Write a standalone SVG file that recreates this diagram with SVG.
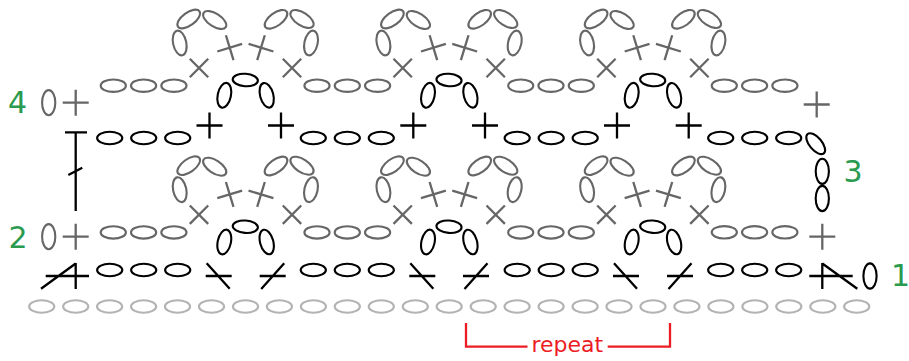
<svg xmlns="http://www.w3.org/2000/svg" width="909" height="361" viewBox="0 0 909 361">
<style>
.k{stroke:#000}.g{stroke:#666}.l{stroke:#b3b3b3}
ellipse,path{fill:none}
ellipse{stroke-width:2.1}
path{stroke-width:2.3}
.num{font:30px "DejaVu Sans",sans-serif;fill:#2a9a4f}
.rep{font:22px "DejaVu Sans",sans-serif;fill:#ed1c24}
</style>
<defs>
<ellipse id="h" rx="12.6" ry="6.2"/>
<ellipse id="v" rx="6.6" ry="12.6"/>
<ellipse id="hl" rx="13.2" ry="6.4"/>
<path id="plus" d="M-13 0H13M0-13V13"/>
<g id="chain"><use href="#h" x="113.3"/><use href="#h" x="143.6"/><use href="#h" x="173.9"/></g>
<g id="chk"><use href="#h" x="0"/><use href="#h" x="34"/><use href="#h" x="68"/></g>
<g id="fan" class="g">
<use href="#plus" transform="translate(199 68) rotate(45)"/>
<use href="#plus" transform="translate(229.7 47.7) rotate(-17)"/>
<use href="#plus" transform="translate(261 47.7) rotate(17)"/>
<use href="#plus" transform="translate(292 68) rotate(45)"/>
<use href="#v" transform="translate(179.7 43) rotate(-12)"/>
<use href="#hl" transform="translate(188.7 19) rotate(-36)"/>
<use href="#hl" transform="translate(214.7 20) rotate(33)"/>
<use href="#hl" transform="translate(276 19.3) rotate(-36)"/>
<use href="#hl" transform="translate(302 19) rotate(33)"/>
<use href="#v" transform="translate(311 43) rotate(12)"/>
<use href="#chain" y="85.7"/>
</g>
<g id="arch" class="k">
<use href="#v" transform="translate(224.3 95.3) rotate(12)"/>
<use href="#h" transform="translate(245.3 80) rotate(4)"/>
<use href="#v" transform="translate(266.7 95.3) rotate(-15)"/>
</g>
<g id="rep4"><use href="#fan"/><use href="#arch"/></g>
<g id="dl"><path d="M-13 0H13M-12 -12.7L11 12.7"/></g>
<g id="dr"><path d="M-13 0H13M-11.5 12.9L11.5 -12.7"/></g>
</defs>
<g id="foundation" class="l">
<use href="#h" x="41.7" y="306.5"/><use href="#h" x="75.7" y="306.5"/><use href="#h" x="109.6" y="306.5"/><use href="#h" x="143.6" y="306.5"/><use href="#h" x="177.5" y="306.5"/><use href="#h" x="211.5" y="306.5"/><use href="#h" x="245.5" y="306.5"/><use href="#h" x="279.4" y="306.5"/><use href="#h" x="313.4" y="306.5"/><use href="#h" x="347.3" y="306.5"/><use href="#h" x="381.3" y="306.5"/><use href="#h" x="415.3" y="306.5"/><use href="#h" x="449.2" y="306.5"/><use href="#h" x="483.2" y="306.5"/><use href="#h" x="517.1" y="306.5"/><use href="#h" x="551.1" y="306.5"/><use href="#h" x="585.1" y="306.5"/><use href="#h" x="619" y="306.5"/><use href="#h" x="653" y="306.5"/><use href="#h" x="686.9" y="306.5"/><use href="#h" x="720.9" y="306.5"/><use href="#h" x="754.9" y="306.5"/><use href="#h" x="788.8" y="306.5"/><use href="#h" x="822.8" y="306.5"/><use href="#h" x="856.7" y="306.5"/>
</g>
<g id="row1" class="k">
<path d="M45.7 276H89M75.7 263V289M41 288.7L75.7 263.5"/>
<use href="#chk" x="109.7" y="270"/>
<use href="#dl" x="218.7" y="276"/><use href="#dr" x="272.7" y="276"/>
<use href="#chk" x="313.3" y="270"/>
<use href="#dl" x="422.3" y="276"/><use href="#dr" x="476" y="276"/>
<use href="#chk" x="517.2" y="270"/>
<use href="#dl" x="626" y="276"/><use href="#dr" x="680" y="276"/>
<use href="#chk" x="720.7" y="270"/>
<path d="M809.3 276H852.7M822.3 263V289M822.3 263.5L857.3 288.7"/>
<use href="#v" x="870" y="276"/>
</g>
<g id="row2" class="g">
<use href="#v" x="48.7" y="236.7"/><use href="#plus" x="75.7" y="236.7"/>
<use href="#plus" x="822.3" y="236.7"/>
<use href="#chain" x="611" y="232.3"/>
</g>
<g id="motifs2" transform="translate(0 146.7)">
<use href="#rep4"/><use href="#rep4" x="203.7"/><use href="#rep4" x="407.4"/>
</g>
<g id="row3" class="k">
<path d="M65 132.3H87M75.7 132.3V211M68.3 175L82.3 167.7"/>
<use href="#chk" x="109.7" y="138"/>
<use href="#plus" x="209.5" y="125.5"/><use href="#plus" x="281" y="125.5"/>
<use href="#chk" x="313.3" y="138"/>
<use href="#plus" x="413.3" y="125.5"/><use href="#plus" x="485" y="125.5"/>
<use href="#chk" x="517.2" y="138"/>
<use href="#plus" x="617" y="125.5"/><use href="#plus" x="688.7" y="125.5"/>
<use href="#chk" x="720.7" y="138"/>
<use href="#h" transform="translate(815.7 143.7) rotate(50)"/>
<use href="#v" x="822.3" y="171.3"/><use href="#v" x="822.3" y="198.5"/>
</g>
<g id="row4" class="g">
<use href="#v" x="48.7" y="102.7"/><use href="#plus" x="75.7" y="102.7"/>
<use href="#plus" x="816.7" y="104.5"/>
<use href="#chain" x="611" y="85.7"/>
</g>
<g id="motifs4">
<use href="#rep4"/><use href="#rep4" x="203.7"/><use href="#rep4" x="407.4"/>
</g>
<g id="labels">
<text class="num" x="8" y="112.7">4</text>
<text class="num" x="8.5" y="247.7">2</text>
<text class="num" x="843.5" y="181.7">3</text>
<text class="num" x="891" y="285.7">1</text>
</g>
<g id="repeat">
<path d="M466 323V346.7H527.5M607.7 346.7H670V323" style="stroke:#ed1c24"/>
<text class="rep" x="531.5" y="351.7">repeat</text>
</g>
</svg>
